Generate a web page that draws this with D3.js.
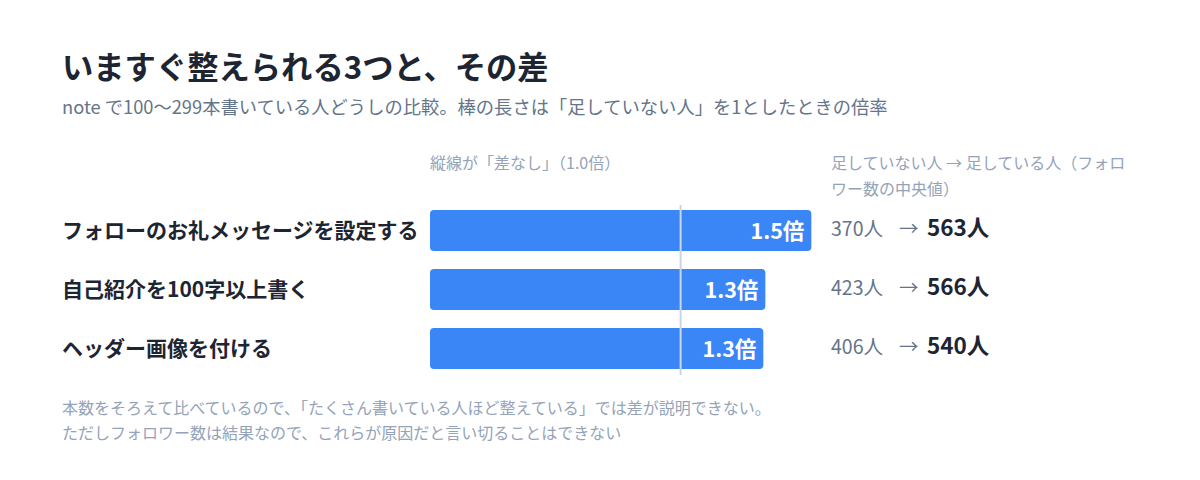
<!DOCTYPE html>
<html lang="ja">
<head>
<meta charset="utf-8">
<script src="https://cdn.jsdelivr.net/npm/d3@7"></script>
<style>
  body { margin: 0; background: #fff; }
  svg { display: block; font-family: "Noto Sans CJK JP", "Noto Sans", sans-serif; }
</style>
</head>
<body>
<svg id="chart" width="1200" height="480"></svg>
<script>
const actions = [
    "フォローのお礼メッセージを設定する",
    "自己紹介を100字以上書く",
    "ヘッダー画像を付ける"
];
const withoutIt = [370, 423, 406];
const withIt = [563, 566, 540];

const title = "いますぐ整えられる3つと、その差";
const subtitle = "note で100〜299本書いている人どうしの比較。棒の長さは「足していない人」を1としたときの倍率";
const refNote = "縦線が「差なし」（1.0倍）";
const rightHead = ["足していない人 → 足している人（フォロ", "ワー数の中央値）"];
const footNotes = [
    "本数をそろえて比べているので、「たくさん書いている人ほど整えている」では差が説明できない。",
    "ただしフォロワー数は結果なので、これらが原因だと言い切ることはできない"
];

const svg = d3.select("#chart");
const ratio = withIt.map((v, i) => v / withoutIt[i]);

const x = d3.scaleLinear().domain([0, 1.6]).range([430, 831]);
const y = d3.scaleBand().domain(actions).range([210, 369]).paddingInner(0.305);

// heading
svg.append("text").attr("x", 62).attr("y", 79)
    .attr("font-size", 31.3).attr("font-weight", 700).attr("fill", "#1e2532")
    .text(title);
svg.append("text").attr("x", 62).attr("y", 114)
    .attr("font-size", 18.3).attr("fill", "#64748b")
    .text(subtitle);

// column notes
svg.append("text").attr("x", x(0)).attr("y", 169)
    .attr("font-size", 16).attr("fill", "#94a3b8")
    .text(refNote);
svg.append("text").attr("x", 831).attr("y", 169)
    .attr("font-size", 16).attr("fill", "#94a3b8")
    .selectAll("tspan").data(rightHead).join("tspan")
    .attr("x", 831).attr("dy", (d, i) => i ? 26 : 0)
    .text(d => d);

// category labels
svg.append("g").selectAll("text").data(actions).join("text")
    .attr("x", 62)
    .attr("y", d => y(d) + y.bandwidth() / 2)
    .attr("dy", "0.36em")
    .attr("font-size", 21).attr("font-weight", 700).attr("fill", "#1e2532")
    .text(d => d);

// bars
svg.append("g").selectAll("rect").data(actions).join("rect")
    .attr("x", x(0))
    .attr("y", d => y(d))
    .attr("width", (d, i) => x(ratio[i]) - x(0))
    .attr("height", y.bandwidth())
    .attr("rx", 4)
    .attr("fill", "#3b86f7");

// 1.0 reference line
svg.append("line")
    .attr("x1", x(1)).attr("x2", x(1))
    .attr("y1", y.range()[0] - 5).attr("y2", y.range()[1] + 6)
    .attr("stroke", "#cbd5e1").attr("stroke-width", 2);

// ratio labels
svg.append("g").selectAll("text").data(actions).join("text")
    .attr("x", (d, i) => x(ratio[i]) - 7)
    .attr("y", d => y(d) + y.bandwidth() / 2)
    .attr("dy", "0.38em")
    .attr("text-anchor", "end")
    .attr("font-size", 21.5).attr("font-weight", 700).attr("fill", "#fff")
    .text((d, i) => ratio[i].toFixed(1) + "倍");

// follower medians
const vals = svg.append("g").selectAll("text").data(actions).join("text")
    .attr("x", 831)
    .attr("y", d => y(d) + y.bandwidth() / 2)
    .attr("dy", "0.36em");
vals.append("tspan")
    .attr("font-size", 19.5).attr("fill", "#64748b")
    .text((d, i) => withoutIt[i] + "人");
vals.append("tspan")
    .attr("x", 899)
    .attr("font-size", 19.5).attr("fill", "#64748b")
    .text("→");
vals.append("tspan")
    .attr("x", 927)
    .attr("font-size", 22.5).attr("font-weight", 700).attr("fill", "#1e2532")
    .text((d, i) => withIt[i] + "人");

// footnotes
svg.append("g").selectAll("text").data(footNotes).join("text")
    .attr("x", 62)
    .attr("y", (d, i) => 414 + i * 25)
    .attr("font-size", 16).attr("fill", "#94a3b8")
    .text(d => d);
</script>
</body>
</html>
